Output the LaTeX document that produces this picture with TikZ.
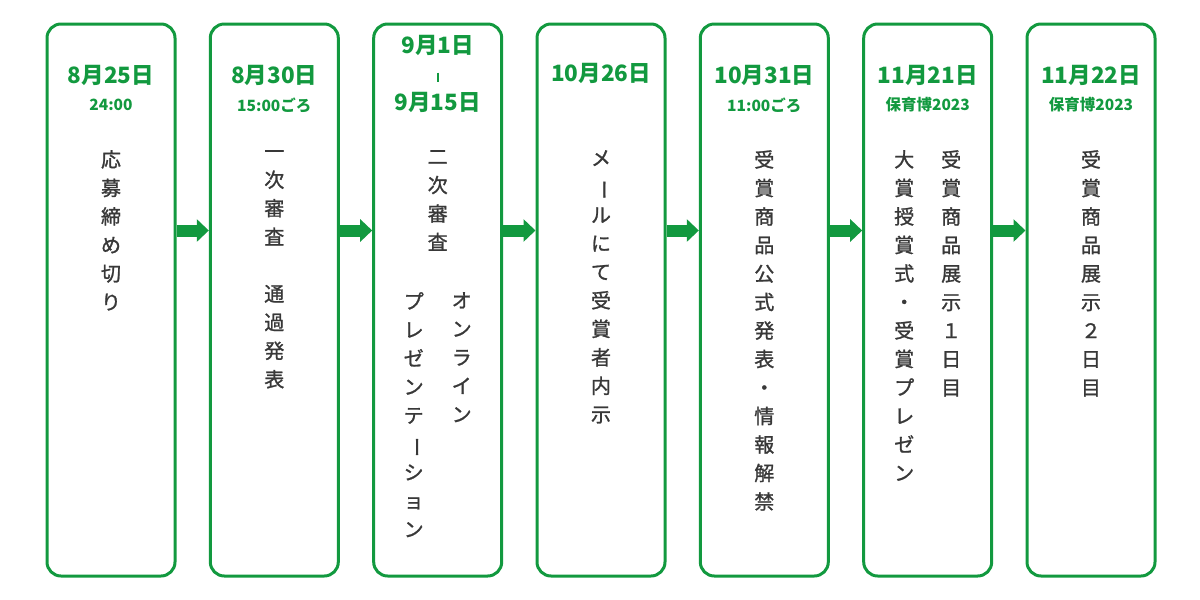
\documentclass[tikz,border=0pt]{standalone}
\usepackage{fontspec}
\usepackage{graphicx}
\newfontfamily\jp{Noto Sans CJK JP}
\newfontfamily\jpm[FakeBold=1.2]{Noto Sans CJK JP}
\usetikzlibrary{arrows.meta,calc}
\definecolor{grn}{HTML}{12993F}
\definecolor{ink}{HTML}{383838}
\newcommand{\vchou}{\rotatebox[origin=c]{-90}{ー}}
\begin{document}
\begin{tikzpicture}[x=1pt,y=-1pt,
  box/.style={draw=grn, line width=3pt, rounded corners=14pt, minimum width=128pt, minimum height=552pt, inner sep=0pt},
  datelbl/.style={text=grn, font=\jp\bfseries\fontsize{22.5}{24}\selectfont, inner sep=0pt},
  sublbl/.style={text=grn, font=\jp\bfseries\fontsize{15.5}{16}\selectfont, inner sep=0pt},
  vt/.style={text=ink, font=\jpm\fontsize{20}{28.5}\selectfont, align=center, anchor=north, inner sep=0pt},
  arr/.style={grn, line width=12pt, -{Triangle[length=12pt,width=22pt]}}]
\useasboundingbox (0,0) rectangle (1200,600);
% boxes
\node[box] (b1) at (111,300) {};
\node[box] (b2) at (274.3,300) {};
\node[box] (b3) at (437.7,300) {};
\node[box] (b4) at (601,300) {};
\node[box] (b5) at (764.3,300) {};
\node[box] (b6) at (927.7,300) {};
\node[box] (b7) at (1091,300) {};
% arrows
\draw[arr] ($(b1.north east)+(0,208)$) -- ($(b2.north west)+(0,208)$);
\draw[arr] ($(b2.north east)+(0,208)$) -- ($(b3.north west)+(0,208)$);
\draw[arr] ($(b3.north east)+(0,208)$) -- ($(b4.north west)+(0,208)$);
\draw[arr] ($(b4.north east)+(0,208)$) -- ($(b5.north west)+(0,208)$);
\draw[arr] ($(b5.north east)+(0,208)$) -- ($(b6.north west)+(0,208)$);
\draw[arr] ($(b6.north east)+(0,208)$) -- ($(b7.north west)+(0,208)$);
% headers
\node[datelbl] (d1) at (111,75) {8月25日};
\node[sublbl] (s1) at (111,105) {24:00};
\node[datelbl] (d2) at (274.3,75) {8月30日};
\node[sublbl] (s2) at (274.3,105) {15:00ごろ};
\node[datelbl] (d3a) at (437.7,45) {9月1日};
\node[datelbl] (d3b) at (437.7,102) {9月15日};
\coordinate (tick) at (437.7,77);
\draw[grn, line width=2.4pt] ($(tick)+(0,-4.5)$) -- ($(tick)+(0,4.5)$);
\node[datelbl] (d4) at (601,73) {10月26日};
\node[datelbl] (d5) at (764.3,75) {10月31日};
\node[sublbl] (s5) at (764.3,105) {11:00ごろ};
\node[datelbl] (d6) at (927.7,75) {11月21日};
\node[sublbl] (s6) at (927.7,105) {保育博2023};
\node[datelbl] (d7) at (1091,75) {11月22日};
\node[sublbl] (s7) at (1091,105) {保育博2023};
% vertical texts
\node[vt] (t1) at (111,150) {応\\募\\締\\め\\切\\り};
\node[vt] (t2) at (274.3,150) {一\\次\\審\\査\\[28.5pt]通\\過\\発\\表};
\node[vt] (t3) at (437.7,150) {二\\次\\審\\査};
\node[vt] (t3r) at (461.7,292) {オ\\ン\\ラ\\イ\\ン};
\node[vt] (t3l) at (413.7,292) {プ\\レ\\ゼ\\ン\\テ\\\vchou\\シ\\ョ\\ン};
\node[vt] (t4) at (601,150) {メ\\\vchou\\ル\\に\\て\\受\\賞\\者\\内\\示};
\node[vt] (t5) at (764.3,150) {受\\賞\\商\\品\\公\\式\\発\\表\\・\\情\\報\\解\\禁};
\node[vt] (t6r) at (951.2,150) {受\\賞\\商\\品\\展\\示\\１\\日\\目};
\node[vt] (t6l) at (904.2,150) {大\\賞\\授\\賞\\式\\・\\受\\賞\\プ\\レ\\ゼ\\ン};
\node[vt] (t7) at (1091,150) {受\\賞\\商\\品\\展\\示\\２\\日\\目};
\end{tikzpicture}
\end{document}
